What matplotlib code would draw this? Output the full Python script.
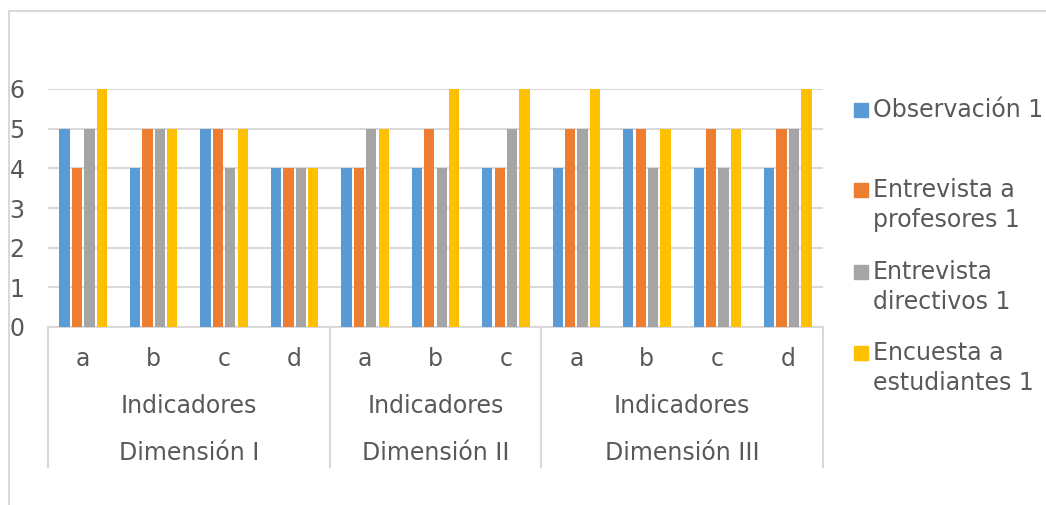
import matplotlib
matplotlib.use("Agg")
import matplotlib.pyplot as plt
from matplotlib.patches import Rectangle
from matplotlib.lines import Line2D
import numpy as np

# ---- data ----
dimensions = ["Dimensión I", "Dimensión II", "Dimensión III"]
level2_label = "Indicadores"
indicators = [["a", "b", "c", "d"], ["a", "b", "c"], ["a", "b", "c", "d"]]
series_names = ["Observación 1", "Entrevista a\nprofesores 1",
                "Entrevista\ndirectivos 1", "Encuesta a\nestudiantes 1"]
observacion = [5, 4, 5, 4, 4, 4, 4, 4, 5, 4, 4]
entrevista_prof = [4, 5, 5, 4, 4, 5, 4, 5, 5, 5, 5]
entrevista_dir = [5, 5, 4, 4, 5, 4, 5, 5, 4, 4, 5]
encuesta_est = [6, 5, 5, 4, 5, 6, 6, 6, 5, 5, 6]
yticks = [0, 1, 2, 3, 4, 5, 6]

series = [observacion, entrevista_prof, entrevista_dir, encuesta_est]
colors = ["#5B9BD5", "#ED7D31", "#A5A5A5", "#FFC000"]
txt = "#595959"
grid = "#D9D9D9"

W, H = 1046, 505
fig = plt.figure(figsize=(W / 100, H / 100), dpi=100)
plt.rcParams["font.family"] = ["DejaVu Sans"]
FS = 17

def fx(px):
    return px / W

def fy(py):
    return 1 - py / H

ax_l, ax_r, ax_t, ax_b = 48, 823, 89, 327
ax = fig.add_axes([fx(ax_l), fy(ax_b), fx(ax_r) - fx(ax_l), fy(ax_t) - fy(ax_b)])

n = len(observacion)
x = np.arange(n)
slot = 0.176
bw = 0.146
for i, (vals, c) in enumerate(zip(series, colors)):
    ax.bar(x + (i - 1.5) * slot, vals, width=bw, color=c, zorder=3, clip_on=False)

ax.set_xlim(-0.5, n - 0.5)
ax.set_ylim(0, 6)
ax.set_yticks(yticks)
ax.set_yticklabels([str(t) for t in yticks], fontsize=FS, color=txt)
ax.tick_params(axis="y", length=0, pad=17)
ax.set_xticks([])
for s in ["top", "right", "left"]:
    ax.spines[s].set_visible(False)
ax.spines["bottom"].set_color(grid)
ax.spines["bottom"].set_linewidth(1.5)
ax.yaxis.grid(True, color=grid, linewidth=1.5, zorder=0)
ax.set_axisbelow(True)

def ay(py):
    return (ax_b - py) / (ax_b - ax_t)

tr = ax.get_xaxis_transform()
# multi-level category axis
pos = 0
bounds = [-0.5]
for d, inds in zip(dimensions, indicators):
    for k, lab in enumerate(inds):
        ax.text(pos + k, ay(359), lab, transform=tr, ha="center", va="center",
                fontsize=FS, color=txt)
    center = pos + (len(inds) - 1) / 2
    ax.text(center, ay(406), level2_label, transform=tr, ha="center", va="center",
            fontsize=FS, color=txt)
    ax.text(center, ay(453), d, transform=tr, ha="center", va="center",
            fontsize=FS, color=txt)
    pos += len(inds)
    bounds.append(pos - 0.5)
for b in bounds:
    ax.add_line(Line2D([b, b], [0, ay(467)], transform=tr, color=grid,
                       linewidth=1.5, clip_on=False))

# chart border
fig.add_artist(Line2D([fx(9), fx(9)], [fy(10.5), fy(505)], transform=fig.transFigure,
                      color=grid, linewidth=1.5))
fig.add_artist(Line2D([fx(9), fx(1046)], [fy(10.5), fy(10.5)], transform=fig.transFigure,
                      color=grid, linewidth=1.5))

# legend
leg_y = [110, 205, 287, 368]
for name, c, yc in zip(series_names, colors, leg_y):
    nlines = name.count("\n") + 1
    fig.add_artist(Rectangle((fx(854), fy(yc + 7 - (nlines - 1) * 15)), fx(14), 14 / H,
                             transform=fig.transFigure, color=c))
    fig.text(fx(873), fy(yc), name, ha="left", va="center", fontsize=FS,
             color=txt, linespacing=1.3)

fig.savefig("out.png", dpi=100)
